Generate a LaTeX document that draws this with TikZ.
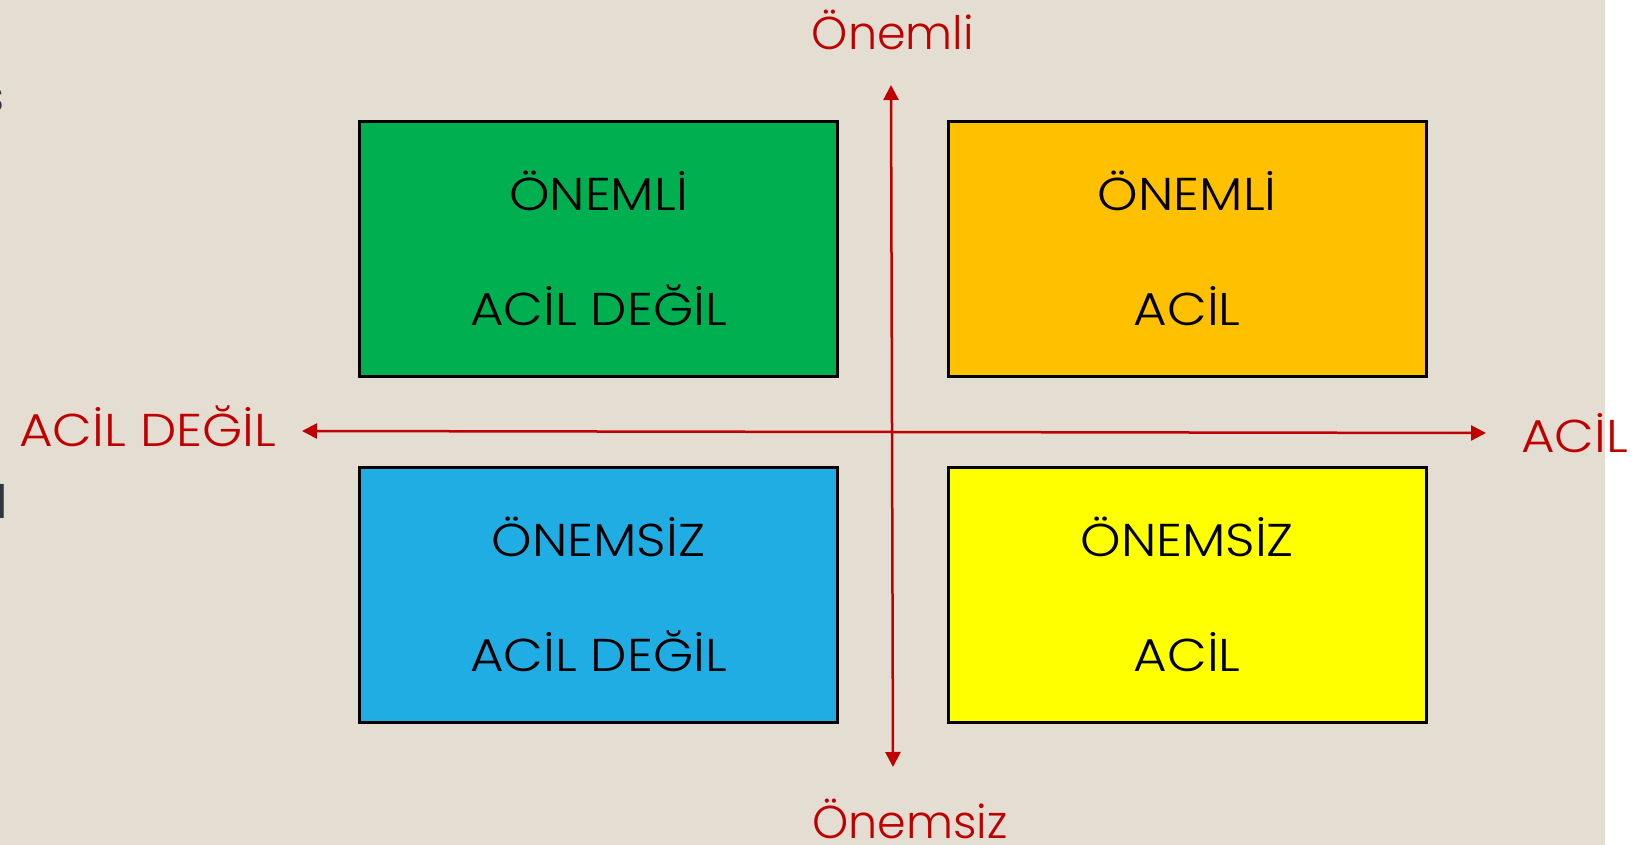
\documentclass[tikz,border=0pt]{standalone}
\usepackage{fontspec}
\setmainfont{Poppins Light}
\newfontfamily\capsfont{Poppins Light}[FakeStretch=1.12]
\newfontfamily\fragfont{Poppins}
\usetikzlibrary{arrows.meta}
\definecolor{bg}{HTML}{E3DDD2}
\definecolor{axred}{HTML}{C00000}
\definecolor{qgreen}{HTML}{00B050}
\definecolor{qorange}{HTML}{FFC000}
\definecolor{qblue}{HTML}{1FADE4}
\definecolor{qyellow}{HTML}{FFFF00}
\definecolor{fragtext}{HTML}{2F363C}
\begin{document}
\begin{tikzpicture}[x=1pt,y=-1pt,
  quad/.style={draw=black,line width=3pt,minimum width=478pt,minimum height=255pt,anchor=north west,inner sep=0pt,outer sep=0pt},
  qtext/.style={anchor=base,font=\capsfont\fontsize{46}{50}\selectfont,text=black,inner sep=0pt},
  axlabel/.style={anchor=base,font=\fontsize{46}{50}\selectfont,text=axred,inner sep=0pt},
  axcaps/.style={anchor=base west,font=\capsfont\fontsize{46}{50}\selectfont,text=axred,inner sep=0pt},
  axis/.style={draw=axred,line width=2.5pt,{Triangle[length=15pt,width=15pt]}-{Triangle[length=15pt,width=15pt]}},
  frag/.style={anchor=base east,font=\fragfont\fontsize{46}{50}\selectfont,text=fragtext,inner sep=0pt}]
\useasboundingbox (0,0) rectangle (1634,845);
\fill[white] (0,0) rectangle (1634,845);
\fill[bg] (0,0) rectangle (1605,845);
% left edge fragments
\node[frag] (fragA) at (5,113) {s};
\node[frag] (fragB) at (8,518) {l};
% quadrants
\node[quad,fill=qgreen] (q1) at (359.5,121.5) {};
\node[quad,fill=qorange] (q2) at (948.2,121.5) {};
\node[quad,fill=qblue] (q3) at (359.5,467.5) {};
\node[quad,fill=qyellow] (q4) at (948.2,467.5) {};
\node[qtext] (t1a) at ([yshift=38.5pt]q1.center) {ÖNEMLİ};
\node[qtext] (t1b) at ([yshift=-76.5pt]q1.center) {ACİL DEĞİL};
\node[qtext] (t2a) at ([yshift=38.5pt]q2.center) {ÖNEMLİ};
\node[qtext] (t2b) at ([yshift=-76.5pt]q2.center) {ACİL};
\node[qtext] (t3a) at ([yshift=38.5pt]q3.center) {ÖNEMSİZ};
\node[qtext] (t3b) at ([yshift=-76.5pt]q3.center) {ACİL DEĞİL};
\node[qtext] (t4a) at ([yshift=38.5pt]q4.center) {ÖNEMSİZ};
\node[qtext] (t4b) at ([yshift=-76.5pt]q4.center) {ACİL};
% axes
\coordinate (vtop) at (891,85);
\coordinate (vbot) at (893,767);
\coordinate (hleft) at (302,431);
\coordinate (hright) at (1486,433);
\draw[axis] (vtop) -- (vbot);
\draw[axis] (hleft) -- (hright);
% axis labels
\node[axlabel] (lt) at (893,50) {Önemli};
\node[axlabel] (lb) at (910,838) {Önemsiz};
\node[axcaps] (ll) at (19,446) {ACİL DEĞİL};
\node[axcaps] (lr) at (1521,452) {ACİL};
\end{tikzpicture}
\end{document}
